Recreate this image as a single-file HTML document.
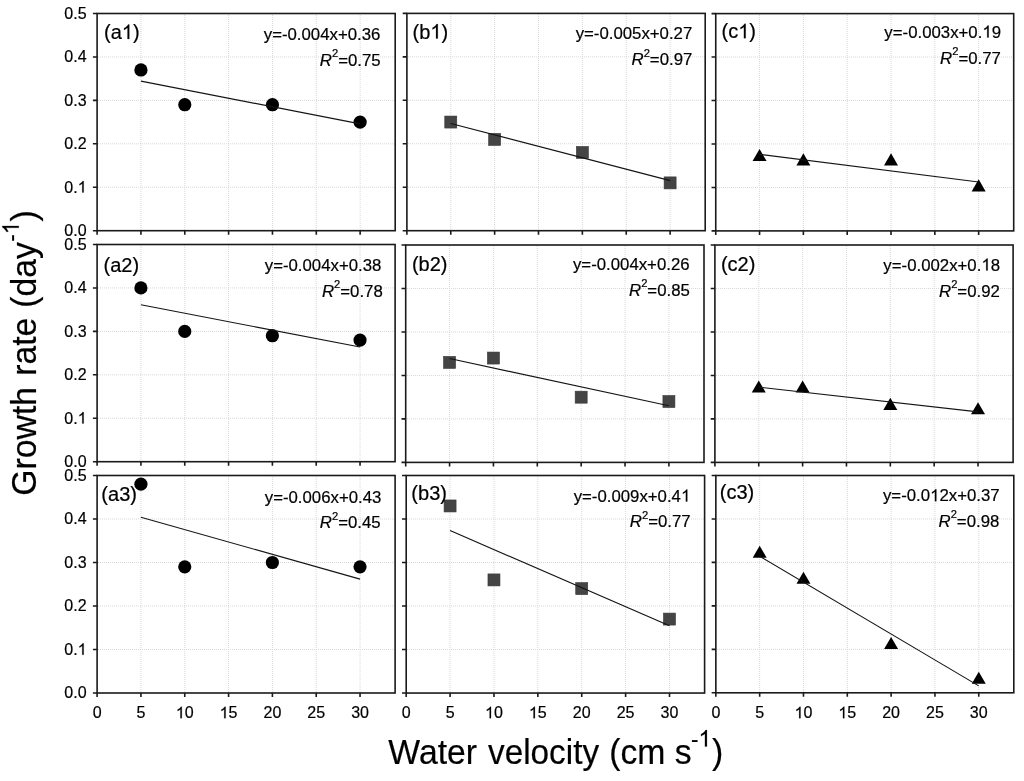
<!DOCTYPE html><html><head><meta charset="utf-8"><style>html,body{margin:0;padding:0;background:#fff;overflow:hidden;}svg{display:block;will-change:transform;}text{font-family:"Liberation Sans",sans-serif;fill:#000;stroke:#000;stroke-width:0.2px;}path.one{stroke:#000;stroke-width:0.2px;}</style></head><body>
<svg width="1024" height="781" viewBox="0 0 1024 781">
<rect width="1024" height="781" fill="#fff"/>
<path d="M140.94 15V230.70M184.78 15V230.70M228.61 15V230.70M272.45 15V230.70M316.29 15V230.70M360.13 15V230.70M98 187.26H395.20M98 143.82H395.20M98 100.38H395.20M98 56.94H395.20" stroke="#d8d8d8" stroke-width="1" stroke-dasharray="1 1" fill="none"/>
<path d="M92.90 230.70H97.10M92.90 187.26H97.10M92.90 143.82H97.10M92.90 100.38H97.10M92.90 56.94H97.10M92.90 13.50H97.10M97.10 230.70V234.70M140.94 230.70V234.70M184.78 230.70V234.70M228.61 230.70V234.70M272.45 230.70V234.70M316.29 230.70V234.70M360.13 230.70V234.70" stroke="#1a1a1a" stroke-width="1.6" fill="none"/>
<rect x="97.10" y="13.50" width="298.10" height="217.20" stroke="#1a1a1a" stroke-width="1.6" fill="none"/>
<circle cx="140.94" cy="69.97" r="6.6" fill="#000"/>
<circle cx="184.78" cy="104.72" r="6.6" fill="#000"/>
<circle cx="272.45" cy="104.72" r="6.6" fill="#000"/>
<circle cx="360.13" cy="122.10" r="6.6" fill="#000"/>
<line x1="140.94" y1="81.16" x2="360.13" y2="123.87" stroke="#141414" stroke-width="1.15"/>
<text x="104.06" y="39.00" font-size="20">(a</text><path class="one" d="M763 0L583 0L583 1147Q518 1085 412.5 1023Q307 961 223 930L223 1104Q374 1175 486.5 1276Q599 1377 647 1472L763 1472Z" vector-effect="non-scaling-stroke" transform="translate(121.84 39.00) scale(0.00977 -0.00977)"/><text x="132.97" y="39.00" font-size="20">)</text>
<text x="263.76" y="39.50" font-size="16.8">y=-0.004x+0.36</text>
<text x="319.80" y="65.60" font-size="16.8"><tspan font-style="italic">R</tspan><tspan font-size="11.2" dy="-8.4">2</tspan><tspan dy="8.4">=</tspan>0.75</text>
<text x="64.36" y="236.00" font-size="16">0.0</text>
<text x="64.36" y="192.56" font-size="16">0.</text><path class="one" d="M763 0L583 0L583 1147Q518 1085 412.5 1023Q307 961 223 930L223 1104Q374 1175 486.5 1276Q599 1377 647 1472L763 1472Z" vector-effect="non-scaling-stroke" transform="translate(77.70 192.56) scale(0.00781 -0.00781)"/>
<text x="64.36" y="149.12" font-size="16">0.2</text>
<text x="64.36" y="105.68" font-size="16">0.3</text>
<text x="64.36" y="62.24" font-size="16">0.4</text>
<text x="64.36" y="18.80" font-size="16">0.5</text>
<path d="M140.92 245V461.70M184.75 245V461.70M228.57 245V461.70M272.39 245V461.70M316.22 245V461.70M360.04 245V461.70M98 418.26H395.10M98 374.82H395.10M98 331.38H395.10M98 287.94H395.10" stroke="#d8d8d8" stroke-width="1" stroke-dasharray="1 1" fill="none"/>
<path d="M92.90 461.70H97.10M92.90 418.26H97.10M92.90 374.82H97.10M92.90 331.38H97.10M92.90 287.94H97.10M92.90 244.50H97.10M97.10 461.70V465.70M140.92 461.70V465.70M184.75 461.70V465.70M228.57 461.70V465.70M272.39 461.70V465.70M316.22 461.70V465.70M360.04 461.70V465.70" stroke="#1a1a1a" stroke-width="1.6" fill="none"/>
<rect x="97.10" y="244.50" width="298.00" height="217.20" stroke="#1a1a1a" stroke-width="1.6" fill="none"/>
<circle cx="140.92" cy="287.94" r="6.6" fill="#000"/>
<circle cx="184.75" cy="331.38" r="6.6" fill="#000"/>
<circle cx="272.39" cy="335.72" r="6.6" fill="#000"/>
<circle cx="360.04" cy="340.07" r="6.6" fill="#000"/>
<line x1="140.92" y1="304.73" x2="360.04" y2="347.06" stroke="#141414" stroke-width="1.15"/>
<text x="103.56" y="271.90" font-size="20">(a2)</text>
<text x="264.76" y="270.50" font-size="16.8">y=-0.004x+0.38</text>
<text x="321.90" y="296.50" font-size="16.8"><tspan font-style="italic">R</tspan><tspan font-size="11.2" dy="-8.4">2</tspan><tspan dy="8.4">=</tspan>0.78</text>
<text x="64.36" y="467.00" font-size="16">0.0</text>
<text x="64.36" y="423.56" font-size="16">0.</text><path class="one" d="M763 0L583 0L583 1147Q518 1085 412.5 1023Q307 961 223 930L223 1104Q374 1175 486.5 1276Q599 1377 647 1472L763 1472Z" vector-effect="non-scaling-stroke" transform="translate(77.70 423.56) scale(0.00781 -0.00781)"/>
<text x="64.36" y="380.12" font-size="16">0.2</text>
<text x="64.36" y="336.68" font-size="16">0.3</text>
<text x="64.36" y="293.24" font-size="16">0.4</text>
<text x="64.36" y="249.80" font-size="16">0.5</text>
<path d="M140.92 477V693.00M184.75 477V693.00M228.57 477V693.00M272.39 477V693.00M316.22 477V693.00M360.04 477V693.00M98 649.50H395.10M98 606.00H395.10M98 562.50H395.10M98 519.00H395.10" stroke="#d8d8d8" stroke-width="1" stroke-dasharray="1 1" fill="none"/>
<path d="M92.90 693.00H97.10M92.90 649.50H97.10M92.90 606.00H97.10M92.90 562.50H97.10M92.90 519.00H97.10M92.90 475.50H97.10M97.10 693.00V697.00M140.92 693.00V697.00M184.75 693.00V697.00M228.57 693.00V697.00M272.39 693.00V697.00M316.22 693.00V697.00M360.04 693.00V697.00" stroke="#1a1a1a" stroke-width="1.6" fill="none"/>
<rect x="97.10" y="475.50" width="298.00" height="217.50" stroke="#1a1a1a" stroke-width="1.6" fill="none"/>
<circle cx="140.92" cy="484.20" r="6.6" fill="#000"/>
<circle cx="184.75" cy="566.85" r="6.6" fill="#000"/>
<circle cx="272.39" cy="562.50" r="6.6" fill="#000"/>
<circle cx="360.04" cy="566.85" r="6.6" fill="#000"/>
<line x1="140.92" y1="517.23" x2="360.04" y2="579.16" stroke="#141414" stroke-width="1.15"/>
<text x="101.36" y="501.20" font-size="20">(a3)</text>
<text x="264.76" y="502.90" font-size="16.8">y=-0.006x+0.43</text>
<text x="319.80" y="528.20" font-size="16.8"><tspan font-style="italic">R</tspan><tspan font-size="11.2" dy="-8.4">2</tspan><tspan dy="8.4">=</tspan>0.45</text>
<text x="64.36" y="698.30" font-size="16">0.0</text>
<text x="64.36" y="654.80" font-size="16">0.</text><path class="one" d="M763 0L583 0L583 1147Q518 1085 412.5 1023Q307 961 223 930L223 1104Q374 1175 486.5 1276Q599 1377 647 1472L763 1472Z" vector-effect="non-scaling-stroke" transform="translate(77.70 654.80) scale(0.00781 -0.00781)"/>
<text x="64.36" y="611.30" font-size="16">0.2</text>
<text x="64.36" y="567.80" font-size="16">0.3</text>
<text x="64.36" y="524.30" font-size="16">0.4</text>
<text x="64.36" y="480.80" font-size="16">0.5</text>
<text x="92.65" y="718.20" font-size="16">0</text>
<text x="136.47" y="718.20" font-size="16">5</text>
<path class="one" d="M763 0L583 0L583 1147Q518 1085 412.5 1023Q307 961 223 930L223 1104Q374 1175 486.5 1276Q599 1377 647 1472L763 1472Z" vector-effect="non-scaling-stroke" transform="translate(175.85 718.20) scale(0.00781 -0.00781)"/><text x="184.75" y="718.20" font-size="16">0</text>
<path class="one" d="M763 0L583 0L583 1147Q518 1085 412.5 1023Q307 961 223 930L223 1104Q374 1175 486.5 1276Q599 1377 647 1472L763 1472Z" vector-effect="non-scaling-stroke" transform="translate(219.67 718.20) scale(0.00781 -0.00781)"/><text x="228.57" y="718.20" font-size="16">5</text>
<text x="263.50" y="718.20" font-size="16">20</text>
<text x="307.32" y="718.20" font-size="16">25</text>
<text x="351.14" y="718.20" font-size="16">30</text>
<path d="M450.77 14V230.70M494.64 14V230.70M538.50 14V230.70M582.37 14V230.70M626.24 14V230.70M670.11 14V230.70M408 187.24H705.20M408 143.78H705.20M408 100.32H705.20M408 56.86H705.20" stroke="#d8d8d8" stroke-width="1" stroke-dasharray="1 1" fill="none"/>
<path d="M402.70 230.70H406.90M402.70 187.24H406.90M402.70 143.78H406.90M402.70 100.32H406.90M402.70 56.86H406.90M402.70 13.40H406.90M406.90 230.70V234.70M450.77 230.70V234.70M494.64 230.70V234.70M538.50 230.70V234.70M582.37 230.70V234.70M626.24 230.70V234.70M670.11 230.70V234.70" stroke="#1a1a1a" stroke-width="1.6" fill="none"/>
<rect x="406.90" y="13.40" width="298.30" height="217.30" stroke="#1a1a1a" stroke-width="1.6" fill="none"/>
<rect x="444.77" y="116.05" width="12" height="12" fill="#444444" stroke="#383838" stroke-width="0.6"/>
<rect x="488.64" y="133.43" width="12" height="12" fill="#444444" stroke="#383838" stroke-width="0.6"/>
<rect x="576.37" y="146.47" width="12" height="12" fill="#444444" stroke="#383838" stroke-width="0.6"/>
<rect x="664.11" y="176.89" width="12" height="12" fill="#444444" stroke="#383838" stroke-width="0.6"/>
<line x1="450.77" y1="123.52" x2="670.11" y2="180.61" stroke="#141414" stroke-width="1.15"/>
<text x="412.56" y="38.50" font-size="20">(b</text><path class="one" d="M763 0L583 0L583 1147Q518 1085 412.5 1023Q307 961 223 930L223 1104Q374 1175 486.5 1276Q599 1377 647 1472L763 1472Z" vector-effect="non-scaling-stroke" transform="translate(430.34 38.50) scale(0.00977 -0.00977)"/><text x="441.47" y="38.50" font-size="20">)</text>
<text x="575.66" y="38.80" font-size="16.8">y=-0.005x+0.27</text>
<text x="631.50" y="65.00" font-size="16.8"><tspan font-style="italic">R</tspan><tspan font-size="11.2" dy="-8.4">2</tspan><tspan dy="8.4">=</tspan>0.97</text>
<path d="M449.57 246V462.40M493.44 246V462.40M537.30 246V462.40M581.17 246V462.40M625.04 246V462.40M668.91 246V462.40M407 418.92H704.00M407 375.44H704.00M407 331.96H704.00M407 288.48H704.00" stroke="#d8d8d8" stroke-width="1" stroke-dasharray="1 1" fill="none"/>
<path d="M401.50 462.40H405.70M401.50 418.92H405.70M401.50 375.44H405.70M401.50 331.96H405.70M401.50 288.48H405.70M401.50 245.00H405.70M405.70 462.40V466.40M449.57 462.40V466.40M493.44 462.40V466.40M537.30 462.40V466.40M581.17 462.40V466.40M625.04 462.40V466.40M668.91 462.40V466.40" stroke="#1a1a1a" stroke-width="1.6" fill="none"/>
<rect x="405.70" y="245.00" width="298.30" height="217.40" stroke="#1a1a1a" stroke-width="1.6" fill="none"/>
<rect x="443.57" y="356.40" width="12" height="12" fill="#444444" stroke="#383838" stroke-width="0.6"/>
<rect x="487.44" y="352.05" width="12" height="12" fill="#444444" stroke="#383838" stroke-width="0.6"/>
<rect x="575.17" y="391.18" width="12" height="12" fill="#444444" stroke="#383838" stroke-width="0.6"/>
<rect x="662.91" y="395.53" width="12" height="12" fill="#444444" stroke="#383838" stroke-width="0.6"/>
<line x1="449.57" y1="358.56" x2="668.91" y2="405.73" stroke="#141414" stroke-width="1.15"/>
<text x="411.96" y="271.00" font-size="20">(b2)</text>
<text x="572.96" y="270.20" font-size="16.8">y=-0.004x+0.26</text>
<text x="629.00" y="295.80" font-size="16.8"><tspan font-style="italic">R</tspan><tspan font-size="11.2" dy="-8.4">2</tspan><tspan dy="8.4">=</tspan>0.85</text>
<path d="M450.08 477V693.05M493.96 477V693.05M537.85 477V693.05M581.73 477V693.05M625.61 477V693.05M669.49 477V693.05M407 649.54H704.60M407 606.03H704.60M407 562.52H704.60M407 519.01H704.60" stroke="#d8d8d8" stroke-width="1" stroke-dasharray="1 1" fill="none"/>
<path d="M402.00 693.05H406.20M402.00 649.54H406.20M402.00 606.03H406.20M402.00 562.52H406.20M402.00 519.01H406.20M402.00 475.50H406.20M406.20 693.05V697.05M450.08 693.05V697.05M493.96 693.05V697.05M537.85 693.05V697.05M581.73 693.05V697.05M625.61 693.05V697.05M669.49 693.05V697.05" stroke="#1a1a1a" stroke-width="1.6" fill="none"/>
<rect x="406.20" y="475.50" width="298.40" height="217.55" stroke="#1a1a1a" stroke-width="1.6" fill="none"/>
<rect x="444.08" y="499.96" width="12" height="12" fill="#444444" stroke="#383838" stroke-width="0.6"/>
<rect x="487.96" y="573.92" width="12" height="12" fill="#444444" stroke="#383838" stroke-width="0.6"/>
<rect x="575.73" y="582.63" width="12" height="12" fill="#444444" stroke="#383838" stroke-width="0.6"/>
<rect x="663.49" y="613.08" width="12" height="12" fill="#444444" stroke="#383838" stroke-width="0.6"/>
<line x1="450.08" y1="530.59" x2="669.49" y2="625.72" stroke="#141414" stroke-width="1.15"/>
<text x="411.36" y="499.90" font-size="20">(b3)</text>
<text x="573.66" y="501.50" font-size="16.8">y=-0.009x+0.4</text><path class="one" d="M763 0L583 0L583 1147Q518 1085 412.5 1023Q307 961 223 930L223 1104Q374 1175 486.5 1276Q599 1377 647 1472L763 1472Z" vector-effect="non-scaling-stroke" transform="translate(681.07 501.50) scale(0.00820 -0.00820)"/>
<text x="629.80" y="527.20" font-size="16.8"><tspan font-style="italic">R</tspan><tspan font-size="11.2" dy="-8.4">2</tspan><tspan dy="8.4">=</tspan>0.77</text>
<text x="401.75" y="718.20" font-size="16">0</text>
<text x="445.63" y="718.20" font-size="16">5</text>
<path class="one" d="M763 0L583 0L583 1147Q518 1085 412.5 1023Q307 961 223 930L223 1104Q374 1175 486.5 1276Q599 1377 647 1472L763 1472Z" vector-effect="non-scaling-stroke" transform="translate(485.07 718.20) scale(0.00781 -0.00781)"/><text x="493.96" y="718.20" font-size="16">0</text>
<path class="one" d="M763 0L583 0L583 1147Q518 1085 412.5 1023Q307 961 223 930L223 1104Q374 1175 486.5 1276Q599 1377 647 1472L763 1472Z" vector-effect="non-scaling-stroke" transform="translate(528.95 718.20) scale(0.00781 -0.00781)"/><text x="537.85" y="718.20" font-size="16">5</text>
<text x="572.83" y="718.20" font-size="16">20</text>
<text x="616.71" y="718.20" font-size="16">25</text>
<text x="660.60" y="718.20" font-size="16">30</text>
<path d="M759.57 15V230.90M803.38 15V230.90M847.20 15V230.90M891.01 15V230.90M934.83 15V230.90M978.65 15V230.90M717 187.44H1013.70M717 143.98H1013.70M717 100.52H1013.70M717 57.06H1013.70" stroke="#d8d8d8" stroke-width="1" stroke-dasharray="1 1" fill="none"/>
<path d="M711.55 230.90H715.75M711.55 187.44H715.75M711.55 143.98H715.75M711.55 100.52H715.75M711.55 57.06H715.75M711.55 13.60H715.75M715.75 230.90V234.90M759.57 230.90V234.90M803.38 230.90V234.90M847.20 230.90V234.90M891.01 230.90V234.90M934.83 230.90V234.90M978.65 230.90V234.90" stroke="#1a1a1a" stroke-width="1.6" fill="none"/>
<rect x="715.75" y="13.60" width="297.95" height="217.30" stroke="#1a1a1a" stroke-width="1.6" fill="none"/>
<path d="M759.57 148.95L766.57 161.05L752.57 161.05Z" fill="#000"/>
<path d="M803.38 153.30L810.38 165.40L796.38 165.40Z" fill="#000"/>
<path d="M891.01 153.30L898.01 165.40L884.01 165.40Z" fill="#000"/>
<path d="M978.65 179.37L985.65 191.47L971.65 191.47Z" fill="#000"/>
<line x1="759.57" y1="154.37" x2="978.65" y2="181.99" stroke="#141414" stroke-width="1.15"/>
<text x="721.56" y="38.20" font-size="20">(c</text><path class="one" d="M763 0L583 0L583 1147Q518 1085 412.5 1023Q307 961 223 930L223 1104Q374 1175 486.5 1276Q599 1377 647 1472L763 1472Z" vector-effect="non-scaling-stroke" transform="translate(738.22 38.20) scale(0.00977 -0.00977)"/><text x="749.34" y="38.20" font-size="20">)</text>
<text x="884.36" y="37.60" font-size="16.8">y=-0.003x+0.</text><path class="one" d="M763 0L583 0L583 1147Q518 1085 412.5 1023Q307 961 223 930L223 1104Q374 1175 486.5 1276Q599 1377 647 1472L763 1472Z" vector-effect="non-scaling-stroke" transform="translate(982.43 37.60) scale(0.00820 -0.00820)"/><text x="991.77" y="37.60" font-size="16.8">9</text>
<text x="940.10" y="63.80" font-size="16.8"><tspan font-style="italic">R</tspan><tspan font-size="11.2" dy="-8.4">2</tspan><tspan dy="8.4">=</tspan>0.77</text>
<path d="M758.75 246V462.40M802.61 246V462.40M846.46 246V462.40M890.31 246V462.40M934.16 246V462.40M978.02 246V462.40M716 418.92H1013.10M716 375.44H1013.10M716 331.96H1013.10M716 288.48H1013.10" stroke="#d8d8d8" stroke-width="1" stroke-dasharray="1 1" fill="none"/>
<path d="M710.70 462.40H714.90M710.70 418.92H714.90M710.70 375.44H714.90M710.70 331.96H714.90M710.70 288.48H714.90M710.70 245.00H714.90M714.90 462.40V466.40M758.75 462.40V466.40M802.61 462.40V466.40M846.46 462.40V466.40M890.31 462.40V466.40M934.16 462.40V466.40M978.02 462.40V466.40" stroke="#1a1a1a" stroke-width="1.6" fill="none"/>
<rect x="714.90" y="245.00" width="298.20" height="217.40" stroke="#1a1a1a" stroke-width="1.6" fill="none"/>
<path d="M758.75 380.42L765.75 392.52L751.75 392.52Z" fill="#000"/>
<path d="M802.61 380.42L809.61 392.52L795.61 392.52Z" fill="#000"/>
<path d="M890.31 397.81L897.31 409.91L883.31 409.91Z" fill="#000"/>
<path d="M978.02 402.16L985.02 414.26L971.02 414.26Z" fill="#000"/>
<line x1="758.75" y1="387.16" x2="978.02" y2="411.85" stroke="#141414" stroke-width="1.15"/>
<text x="720.96" y="270.80" font-size="20">(c2)</text>
<text x="883.36" y="270.50" font-size="16.8">y=-0.002x+0.</text><path class="one" d="M763 0L583 0L583 1147Q518 1085 412.5 1023Q307 961 223 930L223 1104Q374 1175 486.5 1276Q599 1377 647 1472L763 1472Z" vector-effect="non-scaling-stroke" transform="translate(981.43 270.50) scale(0.00820 -0.00820)"/><text x="990.77" y="270.50" font-size="16.8">8</text>
<text x="939.00" y="296.80" font-size="16.8"><tspan font-style="italic">R</tspan><tspan font-size="11.2" dy="-8.4">2</tspan><tspan dy="8.4">=</tspan>0.92</text>
<path d="M759.67 477V692.80M803.48 477V692.80M847.30 477V692.80M891.11 477V692.80M934.93 477V692.80M978.75 477V692.80M717 649.34H1013.80M717 605.88H1013.80M717 562.42H1013.80M717 518.96H1013.80" stroke="#d8d8d8" stroke-width="1" stroke-dasharray="1 1" fill="none"/>
<path d="M711.65 692.80H715.85M711.65 649.34H715.85M711.65 605.88H715.85M711.65 562.42H715.85M711.65 518.96H715.85M711.65 475.50H715.85M715.85 692.80V696.80M759.67 692.80V696.80M803.48 692.80V696.80M847.30 692.80V696.80M891.11 692.80V696.80M934.93 692.80V696.80M978.75 692.80V696.80" stroke="#1a1a1a" stroke-width="1.6" fill="none"/>
<rect x="715.85" y="475.50" width="297.95" height="217.30" stroke="#1a1a1a" stroke-width="1.6" fill="none"/>
<path d="M759.67 545.66L766.67 557.76L752.67 557.76Z" fill="#000"/>
<path d="M803.48 571.74L810.48 583.84L796.48 583.84Z" fill="#000"/>
<path d="M891.11 636.93L898.11 649.03L884.11 649.03Z" fill="#000"/>
<path d="M978.75 671.70L985.75 683.80L971.75 683.80Z" fill="#000"/>
<line x1="759.67" y1="556.23" x2="978.75" y2="685.88" stroke="#141414" stroke-width="1.15"/>
<text x="719.76" y="498.80" font-size="20">(c3)</text>
<text x="882.96" y="501.20" font-size="16.8">y=-0.0</text><path class="one" d="M763 0L583 0L583 1147Q518 1085 412.5 1023Q307 961 223 930L223 1104Q374 1175 486.5 1276Q599 1377 647 1472L763 1472Z" vector-effect="non-scaling-stroke" transform="translate(930.12 501.20) scale(0.00820 -0.00820)"/><text x="939.46" y="501.20" font-size="16.8">2x+0.37</text>
<text x="938.50" y="526.80" font-size="16.8"><tspan font-style="italic">R</tspan><tspan font-size="11.2" dy="-8.4">2</tspan><tspan dy="8.4">=</tspan>0.98</text>
<text x="711.40" y="718.20" font-size="16">0</text>
<text x="755.22" y="718.20" font-size="16">5</text>
<path class="one" d="M763 0L583 0L583 1147Q518 1085 412.5 1023Q307 961 223 930L223 1104Q374 1175 486.5 1276Q599 1377 647 1472L763 1472Z" vector-effect="non-scaling-stroke" transform="translate(794.58 718.20) scale(0.00781 -0.00781)"/><text x="803.48" y="718.20" font-size="16">0</text>
<path class="one" d="M763 0L583 0L583 1147Q518 1085 412.5 1023Q307 961 223 930L223 1104Q374 1175 486.5 1276Q599 1377 647 1472L763 1472Z" vector-effect="non-scaling-stroke" transform="translate(838.40 718.20) scale(0.00781 -0.00781)"/><text x="847.30" y="718.20" font-size="16">5</text>
<text x="882.22" y="718.20" font-size="16">20</text>
<text x="926.03" y="718.20" font-size="16">25</text>
<text x="969.85" y="718.20" font-size="16">30</text>
<text transform="translate(388.35 764.00) scale(0.975 1)" font-size="34.6">Water</text>
<text transform="translate(488.0 764.0) scale(0.963 1)" font-size="34.6">velocity</text>
<text transform="translate(609.15 764.00) scale(0.975 1)" font-size="34.6">(cm</text>
<text transform="translate(674.73 764.00) scale(0.975 1)" font-size="34.6">s</text>
<g transform="translate(691.10 746.6) scale(0.975 1)"><text font-size="23">-</text><path class="one" d="M763 0L583 0L583 1147Q518 1085 412.5 1023Q307 961 223 930L223 1104Q374 1175 486.5 1276Q599 1377 647 1472L763 1472Z" vector-effect="non-scaling-stroke" transform="translate(7.66 0.00) scale(0.01123 -0.01123)"/></g>
<text transform="translate(712.02 764.00) scale(0.975 1)" font-size="34.6">)</text>
<text transform="translate(35.90 495.65) rotate(-90) scale(0.975 1)" font-size="34.6">Growth</text>
<text transform="translate(35.90 375.75) rotate(-90) scale(0.975 1)" font-size="34.6">rate</text>
<text transform="translate(35.90 307.85) rotate(-90) scale(0.975 1)" font-size="34.6">(day</text>
<g transform="translate(18.80 241.70) rotate(-90) scale(0.975 1)"><text font-size="23">-</text><path class="one" d="M763 0L583 0L583 1147Q518 1085 412.5 1023Q307 961 223 930L223 1104Q374 1175 486.5 1276Q599 1377 647 1472L763 1472Z" vector-effect="non-scaling-stroke" transform="translate(7.66 0.00) scale(0.01123 -0.01123)"/></g>
<text transform="translate(35.90 221.38) rotate(-90) scale(0.975 1)" font-size="34.6">)</text>
</svg></body></html>
